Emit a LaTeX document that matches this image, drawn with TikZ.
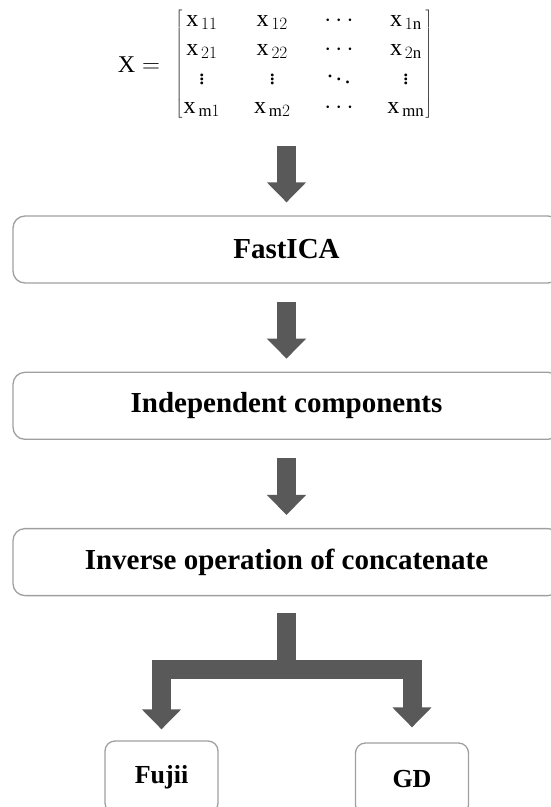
\documentclass[tikz,border=0pt]{standalone}
\usepackage{amsmath}
\usepackage{fontspec}
\setmainfont{Liberation Serif}
\usetikzlibrary{matrix,arrows.meta,positioning}

\begin{document}
\begin{tikzpicture}[x=1pt, y=1pt,
  stage/.style={draw=gray!75, line width=1.3pt, rounded corners=12pt, minimum width=547pt, minimum height=67pt,
    font=\fontsize{29}{34}\selectfont\bfseries},
  leaf/.style={stage, rounded corners=10pt, minimum width=113pt, minimum height=72pt, font=\fontsize{26}{30}\selectfont\bfseries},
  bigarrow/.style={draw=black!65, line width=19pt, line join=miter, -{Triangle[width=38pt,length=20pt]}},
  entry/.style={text height=15pt, text depth=5pt, inner sep=0pt, font=\fontsize{24}{29}\selectfont}]
  \useasboundingbox (0,0) rectangle (551,-807);
  \clip (0,0) rectangle (551,-807);

  \node[font=\fontsize{24}{29}\selectfont] (lhs) at (139,-65) {$\mathrm{X} =$};
  \matrix (m) at (304,-64.5) [matrix of math nodes, left delimiter={[}, right delimiter={]}, column sep=34pt, row sep=9pt, inner sep=0pt,
    column 1/.style={nodes=entry}, column 2/.style={nodes=entry}, column 3/.style={nodes=entry}, column 4/.style={nodes=entry}]
  {
\mathrm{x}_{\,11} & \mathrm{x}_{\,12} & \cdots & \mathrm{x}_{\,1\mathrm{n}} \\
\mathrm{x}_{\,21} & \mathrm{x}_{\,22} & \cdots & \mathrm{x}_{\,2\mathrm{n}} \\
\vdots & \vdots & \ddots & \vdots \\
\mathrm{x}_{\,\mathrm{m}1} & \mathrm{x}_{\,\mathrm{m}2} & \cdots & \mathrm{x}_{\,\mathrm{mn}} \\
};

  \node[stage] (fastica) at (286.5,-249.5) {FastICA};
  \node[stage, below=88pt of fastica] (indep) {Independent components};
  \node[stage, below=88pt of indep] (inverse) {Inverse operation of concatenate};
  \node[leaf] (fujii) at (161.5,-777) {Fujii};
  \node[leaf] (gd) at (412,-779) {GD};

  \coordinate (start) at ([yshift=69pt]fastica.north);
  \draw[bigarrow] (start) -- ([yshift=13pt]fastica.north);
  \draw[bigarrow] ([yshift=-18pt]fastica.south) -- ([yshift=13pt]indep.north);
  \draw[bigarrow] ([yshift=-18pt]indep.south) -- ([yshift=13pt]inverse.north);
  \draw[bigarrow] ([yshift=-17pt]inverse.south) -- ++(0,-56.5) -| ([yshift=11pt]fujii.north);
  \draw[bigarrow] ([yshift=-17pt]inverse.south) -- ++(0,-56.5) -| ([yshift=15pt]gd.north);
\end{tikzpicture}
\end{document}
